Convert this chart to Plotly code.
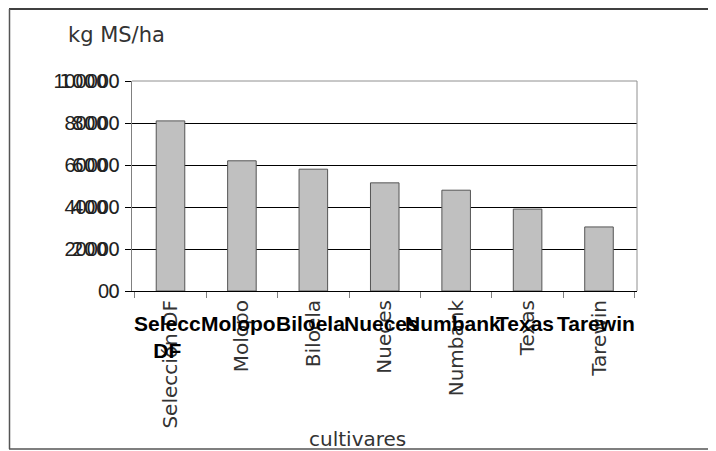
import plotly.graph_objects as go

# ---- data ----
cultivares = ["Selección DF", "Molopo", "Biloela", "Nueces", "Numbank", "Texas", "Tarewin"]
bold_labels = ["Selecc<br>DF", "Molopo", "Biloela", "Nueces", "Numbank", "Texas", "Tarewin"]
rendimiento = [8100, 6200, 5800, 5150, 4800, 3900, 3050]
y_ticks = [0, 2000, 4000, 6000, 8000, 10000]
y_ticktext = ["0", "2000", "4000", "6000", "8000", "10000"]

O = 8                       # page body margin
W, H = 716 - O, 451 - O
L, R, T, B = 132, 637, 81, 291   # plot area in window pixels


def px(x):
    return (x - L) / (R - L)


def py(y):
    return (B - y) / (B - T)


fig = go.Figure()
fig.add_trace(go.Bar(
    x=cultivares, y=rendimiento,
    marker=dict(color="#c0c0c0", line=dict(color="#555555", width=1)),
    hoverinfo="skip", showlegend=False,
))
fig.add_trace(go.Scatter(
    x=cultivares, y=rendimiento, yaxis="y2", mode="markers",
    marker=dict(opacity=0), hoverinfo="skip", showlegend=False,
))

annotations = [
    dict(text="kg MS/ha", x=px(66), y=py(35), xref="paper", yref="paper",
         xanchor="left", yanchor="middle", showarrow=False,
         font=dict(family="DejaVu Sans", size=21, color="#333333")),
    dict(text="cultivares", x=px(357), y=py(439), xref="paper", yref="paper",
         xanchor="center", yanchor="middle", showarrow=False,
         font=dict(family="DejaVu Sans", size=20, color="#333333")),
]
for c, lab in zip(cultivares, bold_labels):
    annotations.append(dict(
        text="<b>%s</b>" % lab, x=c, xref="x", y=py(310), yref="paper",
        xanchor="center", yanchor="top", showarrow=False, xshift=-3,
        font=dict(family="Liberation Sans", size=21, color="#000000"),
    ))

shapes = [
    dict(type="line", xref="paper", yref="paper", x0=0, x1=1, y0=1, y1=1,
         line=dict(color="#909090", width=1), layer="above"),
    dict(type="line", xref="paper", yref="paper", x0=1, x1=1, y0=0, y1=1,
         line=dict(color="#909090", width=1), layer="above"),
    dict(type="line", xref="paper", yref="paper", x0=px(9), x1=px(720), y0=py(9), y1=py(9),
         line=dict(color="#000000", width=1.5)),
    dict(type="line", xref="paper", yref="paper", x0=px(9.5), x1=px(9.5), y0=py(9), y1=py(449),
         line=dict(color="#555555", width=1.5)),
    dict(type="line", xref="paper", yref="paper", x0=px(9), x1=px(720), y0=py(449), y1=py(449),
         line=dict(color="#555555", width=1.5)),
]

fig.update_layout(
    width=W, height=H, autosize=False,
    margin=dict(l=L - O, r=716 - R, t=T - O, b=451 - B, pad=0),
    paper_bgcolor="white", plot_bgcolor="white",
    bargap=0.6,
    annotations=annotations, shapes=shapes,
    xaxis=dict(
        type="category", tickangle=-90, ticks="outside", tickson="boundaries",
        ticklen=6, tickcolor="#808080", showline=True, linecolor="#000000",
        linewidth=1, showgrid=False,
        tickfont=dict(family="DejaVu Sans", size=20, color="#333333"),
    ),
    yaxis=dict(
        range=[0, 10000], tickvals=y_ticks, ticktext=y_ticktext,
        showgrid=True, gridcolor="#000000", gridwidth=1, zeroline=False,
        showline=True, linecolor="#808080", linewidth=1,
        ticks="outside", ticklen=6, tickcolor="#000000",
        ticklabelstandoff=12,
        tickfont=dict(family="Liberation Sans", size=20, color="#222222"),
    ),
    yaxis2=dict(
        overlaying="y", side="left", range=[0, 10000],
        tickvals=y_ticks, ticktext=y_ticktext,
        showgrid=False, zeroline=False, showline=False, ticks="",
        ticklabelstandoff=11,
        tickfont=dict(family="DejaVu Sans", size=19, color="#222222"),
    ),
)

fig.write_html("out.html")
